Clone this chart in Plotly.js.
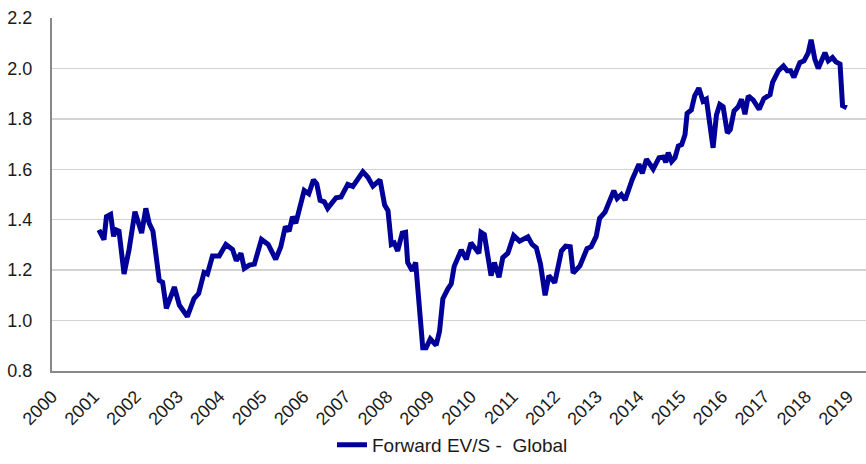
<!DOCTYPE html>
<html>
<head>
<meta charset="utf-8">
<script src="https://cdn.plot.ly/plotly-3.0.1.min.js"></script>
<style>html,body{margin:0;padding:0;background:#fff;}#chart{width:866px;height:464px;}</style>
</head>
<body>
<div id="chart"></div>
<script>
// Time in decimal years, forward EV/S values
const years = [
  2001.12, 2001.24, 2001.30, 2001.40, 2001.47, 2001.52, 2001.60, 2001.72, 2001.84, 2001.98,
  2002.14, 2002.24, 2002.32, 2002.41, 2002.56, 2002.64, 2002.73, 2002.92, 2003.04, 2003.23,
  2003.39, 2003.50, 2003.63, 2003.71, 2003.83, 2003.99, 2004.15, 2004.31, 2004.40, 2004.51,
  2004.59, 2004.71, 2004.83, 2005.00, 2005.16, 2005.34, 2005.46, 2005.57, 2005.66, 2005.74,
  2005.82, 2006.02, 2006.13, 2006.24, 2006.32, 2006.40, 2006.50, 2006.58, 2006.78, 2006.90,
  2007.06, 2007.18, 2007.42, 2007.54, 2007.66, 2007.83, 2007.94, 2008.02, 2008.10, 2008.17,
  2008.25, 2008.36, 2008.44, 2008.49, 2008.60, 2008.68, 2008.85, 2008.93, 2009.03, 2009.17,
  2009.25, 2009.33, 2009.45, 2009.53, 2009.60, 2009.77, 2009.89, 2010.00, 2010.09, 2010.19,
  2010.24, 2010.32, 2010.48, 2010.56, 2010.67, 2010.76, 2010.88, 2011.02, 2011.16, 2011.31,
  2011.36, 2011.46, 2011.56, 2011.66, 2011.77, 2011.86, 2012.00, 2012.16, 2012.26, 2012.37,
  2012.44, 2012.60, 2012.69, 2012.77, 2012.87, 2012.99, 2013.07, 2013.20, 2013.41, 2013.49,
  2013.59, 2013.68, 2013.85, 2014.01, 2014.09, 2014.19, 2014.35, 2014.49, 2014.60, 2014.65,
  2014.71, 2014.79, 2014.87, 2014.95, 2015.03, 2015.11, 2015.16, 2015.26, 2015.34, 2015.44,
  2015.54, 2015.62, 2015.78, 2015.86, 2015.94, 2016.02, 2016.12, 2016.19, 2016.28, 2016.38,
  2016.46, 2016.54, 2016.62, 2016.74, 2016.88, 2016.99, 2017.14, 2017.20, 2017.34, 2017.46,
  2017.55, 2017.63, 2017.71, 2017.85, 2017.95, 2018.05, 2018.12, 2018.21, 2018.29, 2018.45,
  2018.53, 2018.63, 2018.71, 2018.81, 2018.87, 2018.97
];
const evs = [
  1.360, 1.321, 1.412, 1.421, 1.334, 1.360, 1.354, 1.185, 1.282, 1.432,
  1.347, 1.445, 1.386, 1.354, 1.159, 1.152, 1.048, 1.133, 1.061, 1.016,
  1.087, 1.107, 1.191, 1.185, 1.256, 1.256, 1.302, 1.282, 1.237, 1.267,
  1.207, 1.220, 1.224, 1.322, 1.302, 1.243, 1.292, 1.373, 1.354, 1.412,
  1.386, 1.516, 1.503, 1.558, 1.542, 1.477, 1.471, 1.445, 1.487, 1.490,
  1.540, 1.532, 1.590, 1.568, 1.533, 1.558, 1.458, 1.436, 1.302, 1.308,
  1.276, 1.347, 1.350, 1.230, 1.198, 1.230, 0.892, 0.892, 0.927, 0.902,
  0.957, 1.087, 1.126, 1.146, 1.215, 1.280, 1.243, 1.308, 1.289, 1.267,
  1.350, 1.341, 1.178, 1.230, 1.172, 1.250, 1.267, 1.337, 1.315, 1.332,
  1.332, 1.302, 1.289, 1.224, 1.100, 1.178, 1.150, 1.276, 1.295, 1.293,
  1.189, 1.217, 1.253, 1.285, 1.293, 1.334, 1.405, 1.430, 1.515, 1.484,
  1.500, 1.478, 1.560, 1.620, 1.584, 1.640, 1.601, 1.646, 1.649, 1.627,
  1.666, 1.631, 1.646, 1.692, 1.698, 1.737, 1.822, 1.835, 1.891, 1.922,
  1.870, 1.878, 1.685, 1.815, 1.857, 1.848, 1.744, 1.757, 1.831, 1.848,
  1.878, 1.818, 1.891, 1.874, 1.838, 1.880, 1.896, 1.945, 1.991, 2.010,
  1.991, 1.991, 1.965, 2.023, 2.030, 2.062, 2.114, 2.036, 2.000, 2.062,
  2.030, 2.043, 2.026, 2.017, 1.852, 1.844
];
const yearTicks = [2000, 2001, 2002, 2003, 2004, 2005, 2006, 2007, 2008, 2009,
                   2010, 2011, 2012, 2013, 2014, 2015, 2016, 2017, 2018, 2019];
const yearLabels = yearTicks.map(String);
const seriesName = 'Forward EV/S - \u00a0Global';

const trace = {
  x: years,
  y: evs,
  type: 'scatter',
  mode: 'lines',
  name: seriesName,
  line: {color: '#000099', width: 5}
};

const fontFamily = '"Liberation Sans", Arial, sans-serif';
const layout = {
  width: 866,
  height: 464,
  margin: {l: 52, r: 0, t: 18, b: 87},
  paper_bgcolor: '#ffffff',
  plot_bgcolor: '#ffffff',
  font: {family: fontFamily, size: 18, color: '#1a1a1a'},
  showlegend: true,
  legend: {
    orientation: 'h',
    x: 0.492, xanchor: 'center',
    y: -0.209, yanchor: 'middle',
    font: {family: fontFamily, size: 19, color: '#1a1a1a'},
    bgcolor: 'rgba(0,0,0,0)'
  },
  xaxis: {
    type: 'linear',
    range: [2000, 2019.43],
    tickmode: 'array',
    tickvals: yearTicks,
    ticktext: yearLabels,
    tickangle: -45,
    showgrid: false,
    zeroline: false,
    showline: true,
    linecolor: '#888888',
    linewidth: 2,
    ticks: '',
    ticklabelstandoff: 6,
    tickfont: {family: fontFamily, size: 18, color: '#1a1a1a'}
  },
  yaxis: {
    range: [0.8, 2.2],
    tickmode: 'linear',
    tick0: 0.8,
    dtick: 0.2,
    tickformat: '.1f',
    showgrid: true,
    gridcolor: '#d3d3d3',
    gridwidth: 1.5,
    zeroline: false,
    showline: true,
    linecolor: '#888888',
    linewidth: 2,
    ticks: '',
    ticklabelstandoff: 14,
    tickfont: {family: fontFamily, size: 18, color: '#1a1a1a'}
  }
};

Plotly.newPlot('chart', [trace], layout, {displayModeBar: false, staticPlot: true});
</script>
</body>
</html>
